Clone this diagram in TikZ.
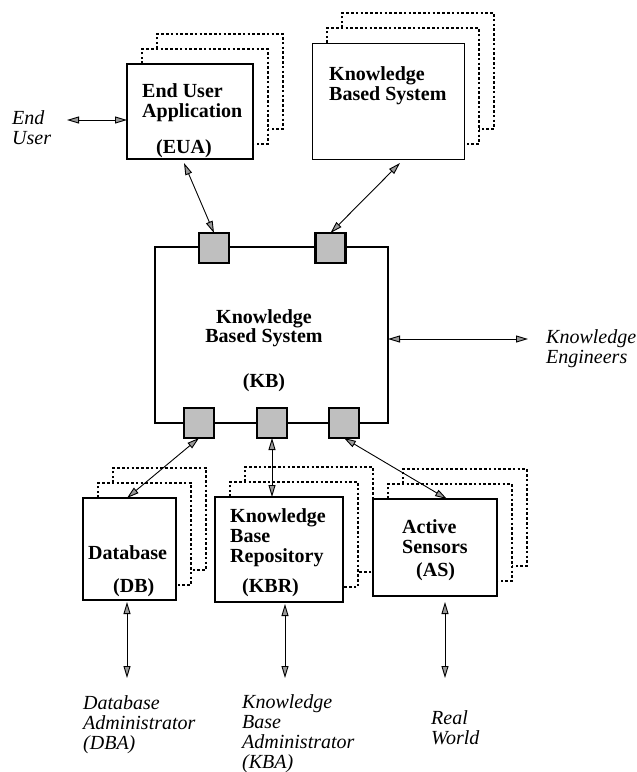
\documentclass[tikz,border=0pt]{standalone}
\usepackage{fontspec}
\setmainfont{Liberation Serif}
\usetikzlibrary{arrows.meta}
\newcommand\stackshadow[1]{%
  \draw[shadowline] ([xshift=15pt]#1.north west) |- ([xshift=15pt,yshift=15pt]#1.north east) |- ([yshift=15pt]#1.south east);
  \draw[shadowline] ([xshift=30pt,yshift=15pt]#1.north west) |- ([xshift=30pt,yshift=30pt]#1.north east) |- ([xshift=15pt,yshift=30pt]#1.south east);}
\begin{document}
\begin{tikzpicture}[x=1pt,y=-1pt,
  box/.style={draw, rectangle, line width=2.2pt, fill=white, inner sep=0pt, outer sep=0pt},
  thinbox/.style={box, line width=1pt},
  port/.style={draw, rectangle, line width=2.2pt, fill=black!25, minimum size=30pt, inner sep=0pt, outer sep=0pt},
  shadowline/.style={line width=2.3pt, dash pattern=on 2.6pt off 2.2pt},
  link/.style={line width=0.9pt, {Triangle[length=12pt,width=7pt,fill=black!40]}-{Triangle[length=12pt,width=7pt,fill=black!40]}},
  boxtext/.style={font=\fontsize{20}{20}\selectfont\bfseries, inner sep=0pt, anchor=base west},
  outtext/.style={font=\fontsize{20}{20}\selectfont\itshape, inner sep=0pt, anchor=base west}]
\useasboundingbox (0,0) rectangle (637,772);

% boxes
\node[box, minimum width=126pt, minimum height=95pt] (eua) at (190,111.5) {};
\stackshadow{eua}
\node[thinbox, minimum width=152pt, minimum height=116pt] (kbs) at (388,101) {};
\stackshadow{kbs}
\node[box, minimum width=233pt, minimum height=176pt] (kb) at (271.5,335) {};
\node[box, minimum width=93pt, minimum height=102pt] (db) at (129.5,549) {};
\stackshadow{db}
\node[box, minimum width=128pt, minimum height=105pt] (kbr) at (279,549.5) {};
\stackshadow{kbr}
\node[box, minimum width=124pt, minimum height=97pt] (as) at (435,547.5) {};
\stackshadow{as}

% ports
\node[port] (p1) at (214,248) {};
\node[port] (p2) at (330.5,248) {};
\node[port] (pa) at (199,423) {};
\node[port] (pb) at (272,423) {};
\node[port] (pc) at (344,423) {};

% box texts
\node[boxtext] (t1) at (142,97) {End User};
\node[boxtext] (t2) at (142,117) {Application};
\node[boxtext] (t3) at (156,153) {(EUA)};
\node[boxtext] (t4) at (329,80) {Knowledge};
\node[boxtext] (t5) at (329,100) {Based System};
\node[boxtext, anchor=base] (t6) at (264,323) {Knowledge};
\node[boxtext, anchor=base] (t7) at (264,342) {Based System};
\node[boxtext, anchor=base] (t8) at (264,387) {(KB)};
\node[boxtext] (t9) at (88,559) {Database};
\node[boxtext] (t10) at (113,592) {(DB)};
\node[boxtext] (t11) at (230,522) {Knowledge};
\node[boxtext] (t12) at (230,542) {Base};
\node[boxtext] (t13) at (230,562) {Repository};
\node[boxtext] (t14) at (242,592) {(KBR)};
\node[boxtext] (t15) at (402,533) {Active};
\node[boxtext] (t16) at (402,553) {Sensors};
\node[boxtext] (t17) at (416,576) {(AS)};

% outside labels
\node[outtext] (u1) at (12,124) {End};
\node[outtext] (u2) at (12,144) {User};
\node[outtext] (u3) at (546,343) {Knowledge};
\node[outtext] (u4) at (546,363) {Engineers};
\node[outtext] (u5) at (83,709) {Database};
\node[outtext] (u6) at (83,729) {Administrator};
\node[outtext] (u7) at (83,749) {(DBA)};
\node[outtext] (u8) at (242,708) {Knowledge};
\node[outtext] (u9) at (242,728) {Base};
\node[outtext] (u10) at (242,748) {Administrator};
\node[outtext] (u11) at (242,768) {(KBA)};
\node[outtext] (u12) at (431,724) {Real};
\node[outtext] (u13) at (431,744) {World};

% free ends
\coordinate (eu) at (67,120);
\coordinate (ke) at (528,339);
\coordinate (dba) at (127,678);
\coordinate (kba) at (285,678);
\coordinate (rw) at (445,678);

% connectors
\draw[link] (eu) -- (eu -| eua.west);
\draw[link] ([xshift=-6pt,yshift=-4pt]eua.south) -- (p1.north);
\draw[link] ([xshift=12pt,yshift=-4pt]kbs.south) -- (p2.north);
\draw[link] ([yshift=-4pt]kb.east) -- (ke);
\draw[link] (pa.south) -- ([xshift=-2.5pt]db.north);
\draw[link] (pb.south) -- (pb.south |- kbr.north);
\draw[link] (pc.south) -- ([xshift=12pt]as.north);
\draw[link] ([yshift=-2pt]dba |- db.south) -- (dba);
\draw[link] ([yshift=-2pt]kba |- kbr.south) -- (kba);
\draw[link] ([yshift=-6pt]rw |- as.south) -- (rw);
\end{tikzpicture}
\end{document}
